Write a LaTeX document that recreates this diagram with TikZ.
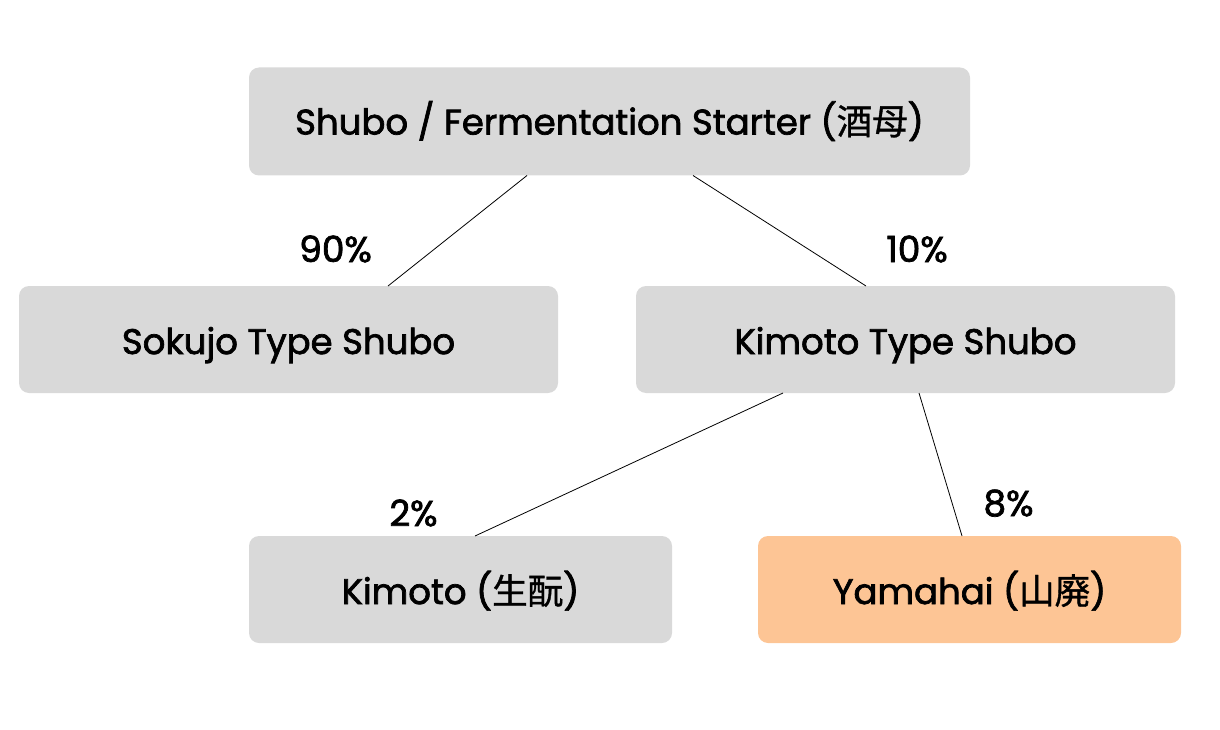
\documentclass[tikz,border=0pt]{standalone}
\usepackage{fontspec}
\setmainfont{Poppins}[FakeBold=2]
\newfontfamily\cjk{Noto Sans CJK JP}[FakeBold=1]
\definecolor{boxgray}{HTML}{D9D9D9}
\definecolor{boxorange}{HTML}{FDC595}
\newcommand{\boxtext}[2]{\smash{\raisebox{-#1}{#2}}}
\begin{document}
\begin{tikzpicture}[x=1pt,y=-1pt,
  box/.style={fill=boxgray, rounded corners=10pt, inner sep=0pt, font=\fontsize{35.5}{40}\selectfont},
  pct/.style={inner sep=0pt, anchor=base, font=\fontsize{36}{40}\selectfont},
  conn/.style={draw=black, line width=0.8pt}]
\useasboundingbox (0,0) rectangle (1220,730);
\node[box, minimum width=721pt, minimum height=108pt] (top) at (609.5,121.5) {\boxtext{13pt}{Shubo / Fermentation Starter ({\cjk 酒母})}};
\node[box, minimum width=539pt, minimum height=107pt] (sok) at (288.5,339.5) {\boxtext{14.5pt}{Sokujo Type Shubo}};
\node[box, minimum width=539pt, minimum height=107pt] (kt) at (905.5,339.5) {\boxtext{14.5pt}{Kimoto Type Shubo}};
\node[box, minimum width=423pt, minimum height=107pt] (kim) at (460.5,589.5) {\boxtext{14.5pt}{Kimoto ({\cjk 生酛})}};
\node[box, fill=boxorange, minimum width=423pt, minimum height=107pt] (yam) at (969.5,589.5) {\boxtext{14.5pt}{Yamahai ({\cjk 山廃})}};
\coordinate (t1) at (527,175.5);
\coordinate (t2) at (693,175.5);
\coordinate (s1) at (388,286);
\coordinate (kt1) at (866,286);
\coordinate (k1) at (783,393);
\coordinate (k2) at (919,393);
\coordinate (m1) at (475,536);
\coordinate (y1) at (962,536);
\draw[conn] (t1) -- (s1);
\draw[conn] (t2) -- (kt1);
\draw[conn] (k1) -- (m1);
\draw[conn] (k2) -- (y1);
\node[pct] (p90) at (335.5,262) {90\%};
\node[pct] (p10) at (917,262) {10\%};
\node[pct] (p2) at (413.5,526) {2\%};
\node[pct] (p8) at (1008.5,516) {8\%};
\end{tikzpicture}
\end{document}
